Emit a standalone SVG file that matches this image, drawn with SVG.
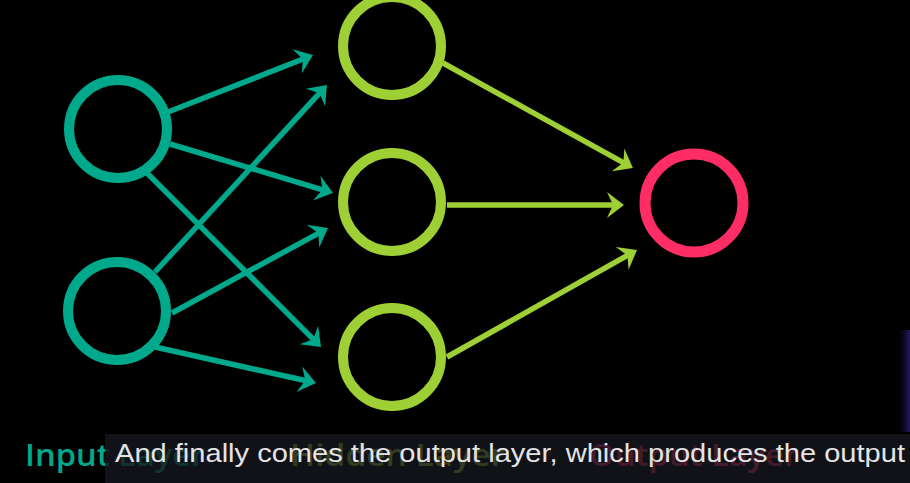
<svg xmlns="http://www.w3.org/2000/svg" width="910" height="483" viewBox="0 0 910 483">
  <defs>
    <style>
      .teal { stroke: #00a98b; stroke-width: 5.5; fill: none; }
      .lime { stroke: #9ecf35; stroke-width: 5.5; fill: none; }
      .n-in { stroke: #00a98b; stroke-width: 10; fill: #000; }
      .n-hid { stroke: #9ecf35; stroke-width: 10; fill: #000; }
      .n-out { stroke: #ff2d65; stroke-width: 11; fill: #000; }
      .lbl { font-family: "Open Sans", "DejaVu Sans", sans-serif; font-size: 30px; font-weight: 600; }
      .cap { font-family: "Liberation Sans", Arial, sans-serif; font-size: 26px; fill: #e4e4e6; }
    </style>
    <marker id="ah-teal" viewBox="-10 -15 22 30" refX="0" refY="0" markerWidth="22" markerHeight="30" markerUnits="userSpaceOnUse" orient="auto">
      <path d="M10,0 L-7,-13 L-1,0 L-7,13 Z" fill="#00a98b"/>
    </marker>
    <marker id="ah-lime" viewBox="-10 -15 22 30" refX="0" refY="0" markerWidth="22" markerHeight="30" markerUnits="userSpaceOnUse" orient="auto">
      <path d="M10,0 L-7,-13 L-1,0 L-7,13 Z" fill="#9ecf35"/>
    </marker>
    <linearGradient id="glow" x1="0" y1="0" x2="1" y2="0">
      <stop offset="0" stop-color="#000" stop-opacity="0"/>
      <stop offset="1" stop-color="#241a66"/>
    </linearGradient>
  </defs>
  <rect width="910" height="483" fill="#000"/>
  <rect x="896" y="330" width="14" height="102" fill="url(#glow)"/>

  <g id="connectors">
    <line class="teal" x1="168" y1="112" x2="303.7" y2="58.7" marker-end="url(#ah-teal)"/>
    <line class="teal" x1="155" y1="272" x2="320.2" y2="92.4" marker-end="url(#ah-teal)"/>
    <line class="teal" x1="170" y1="144" x2="323.4" y2="190.1" marker-end="url(#ah-teal)"/>
    <line class="teal" x1="147" y1="173" x2="313.9" y2="339.9" marker-end="url(#ah-teal)"/>
    <line class="teal" x1="172" y1="313" x2="319.2" y2="232.8" marker-end="url(#ah-teal)"/>
    <line class="teal" x1="155" y1="347" x2="306.2" y2="380.8" marker-end="url(#ah-teal)"/>
    <line class="lime" x1="443" y1="63" x2="624.2" y2="163.2" marker-end="url(#ah-lime)"/>
    <line class="lime" x1="447" y1="205" x2="614" y2="205" marker-end="url(#ah-lime)"/>
    <line class="lime" x1="447" y1="357" x2="628.3" y2="254.9" marker-end="url(#ah-lime)"/>
  </g>

  <g id="input-1"><circle class="n-in" cx="118" cy="129" r="49"/></g>
  <g id="input-2"><circle class="n-in" cx="117" cy="311" r="49"/></g>
  <g id="hidden-1"><circle class="n-hid" cx="392" cy="46" r="49"/></g>
  <g id="hidden-2"><circle class="n-hid" cx="392" cy="202" r="49"/></g>
  <g id="hidden-3"><circle class="n-hid" cx="392" cy="357" r="49"/></g>
  <g id="output-1"><circle class="n-out" cx="694" cy="203" r="49"/></g>

  <g id="labels">
    <text class="lbl" x="25" y="466" fill="#00a98b" textLength="180" lengthAdjust="spacingAndGlyphs">Input Layer</text>
    <text class="lbl" x="290" y="466" fill="#9ecf35" textLength="215" lengthAdjust="spacingAndGlyphs">Hidden Layer</text>
    <text class="lbl" x="589" y="466" fill="#ff2d65" textLength="209" lengthAdjust="spacingAndGlyphs">Output Layer</text>
  </g>

  <g id="caption">
    <rect x="105" y="434" width="805" height="49" fill="#15161d" fill-opacity="0.8"/>
    <text class="cap" x="115" y="462" textLength="790" lengthAdjust="spacingAndGlyphs">And finally comes the output layer, which produces the output</text>
  </g>
</svg>
